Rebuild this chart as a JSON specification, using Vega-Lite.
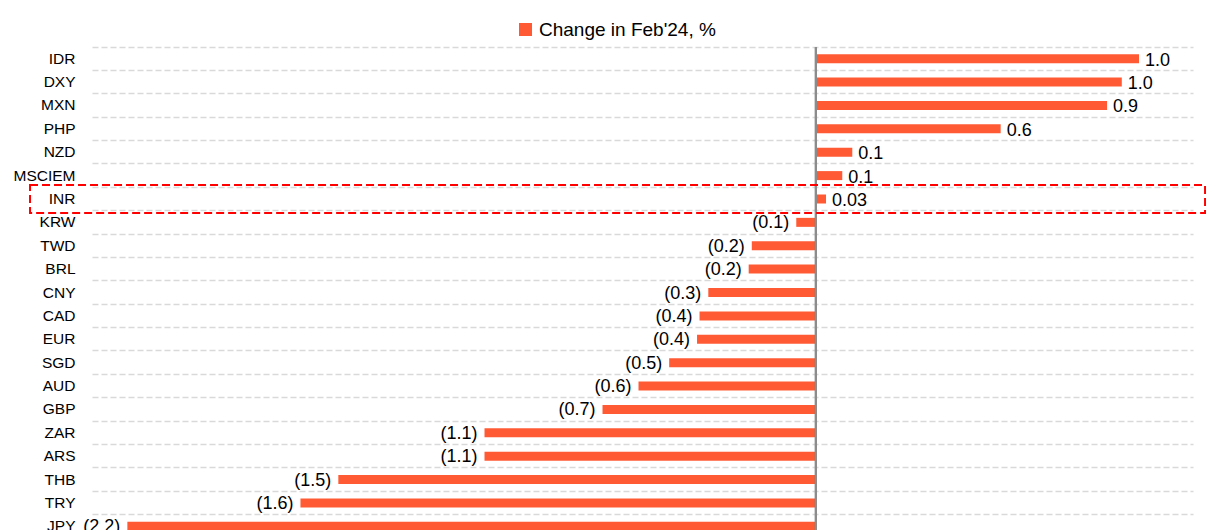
{
  "$schema": "https://vega.github.io/schema/vega-lite/v6.json",
  "autosize": {"type": "none"},
  "padding": {"left": 92, "top": 47, "right": 13, "bottom": 0},
  "width": 1101,
  "height": 491,
  "background": "white",
  "config": {
    "view": {"stroke": null},
    "font": "Liberation Sans"
  },
  "data": {
    "values": [
      {"cur": "IDR", "v": 1.032, "label": "1.0", "series": "Change in Feb'24, %"},
      {"cur": "DXY", "v": 0.977, "label": "1.0", "series": "Change in Feb'24, %"},
      {"cur": "MXN", "v": 0.93, "label": "0.9", "series": "Change in Feb'24, %"},
      {"cur": "PHP", "v": 0.59, "label": "0.6", "series": "Change in Feb'24, %"},
      {"cur": "NZD", "v": 0.116, "label": "0.1", "series": "Change in Feb'24, %"},
      {"cur": "MSCIEM", "v": 0.084, "label": "0.1", "series": "Change in Feb'24, %"},
      {"cur": "INR", "v": 0.032, "label": "0.03", "series": "Change in Feb'24, %"},
      {"cur": "KRW", "v": -0.063, "label": "(0.1)", "series": "Change in Feb'24, %"},
      {"cur": "TWD", "v": -0.205, "label": "(0.2)", "series": "Change in Feb'24, %"},
      {"cur": "BRL", "v": -0.215, "label": "(0.2)", "series": "Change in Feb'24, %"},
      {"cur": "CNY", "v": -0.344, "label": "(0.3)", "series": "Change in Feb'24, %"},
      {"cur": "CAD", "v": -0.372, "label": "(0.4)", "series": "Change in Feb'24, %"},
      {"cur": "EUR", "v": -0.38, "label": "(0.4)", "series": "Change in Feb'24, %"},
      {"cur": "SGD", "v": -0.469, "label": "(0.5)", "series": "Change in Feb'24, %"},
      {"cur": "AUD", "v": -0.567, "label": "(0.6)", "series": "Change in Feb'24, %"},
      {"cur": "GBP", "v": -0.682, "label": "(0.7)", "series": "Change in Feb'24, %"},
      {"cur": "ZAR", "v": -1.059, "label": "(1.1)", "series": "Change in Feb'24, %"},
      {"cur": "ARS", "v": -1.059, "label": "(1.1)", "series": "Change in Feb'24, %"},
      {"cur": "THB", "v": -1.526, "label": "(1.5)", "series": "Change in Feb'24, %"},
      {"cur": "TRY", "v": -1.647, "label": "(1.6)", "series": "Change in Feb'24, %"},
      {"cur": "JPY", "v": -2.2, "label": "(2.2)", "series": "Change in Feb'24, %"}
    ]
  },
  "encoding": {
    "y": {
      "field": "cur",
      "type": "nominal",
      "sort": null,
      "scale": {"paddingInner": 0, "paddingOuter": 0},
      "axis": {
        "title": null,
        "domain": false,
        "ticks": false,
        "labelPadding": 17,
        "labelFontSize": 15.5,
        "labelColor": "#000000",
        "labelFont": "Liberation Sans",
        "grid": true,
        "bandPosition": 0,
        "gridColor": "#d9d9d9",
        "gridDash": [6, 3],
        "gridWidth": 1.5
      }
    },
    "x": {
      "field": "v",
      "type": "quantitative",
      "scale": {"domain": [-2.313, 1.2045], "nice": false, "zero": false},
      "axis": null
    }
  },
  "layer": [
    {
      "mark": {"type": "bar", "size": 9},
      "encoding": {
        "color": {
          "field": "series",
          "type": "nominal",
          "scale": {"range": ["#FF5A33"]},
          "legend": {
            "title": null,
            "orient": "none",
            "legendX": 424,
            "legendY": -27,
            "symbolType": "square",
            "symbolSize": 169,
            "symbolStrokeWidth": 0,
            "labelFontSize": 19,
            "labelFont": "Liberation Sans",
            "labelColor": "#000000",
            "labelOffset": 4,
            "labelLimit": 0
          }
        }
      }
    },
    {
      "mark": {"type": "rule", "color": "#8c8c8c", "strokeWidth": 2},
      "encoding": {"x": {"datum": 0}, "y": null}
    },
    {
      "transform": [{"filter": "datum.v >= 0"}],
      "mark": {"type": "text", "align": "left", "baseline": "middle", "dx": 6, "dy": 2, "fontSize": 18, "font": "Liberation Sans", "color": "#000000"},
      "encoding": {"text": {"field": "label"}}
    },
    {
      "transform": [{"filter": "datum.v < 0"}],
      "mark": {"type": "text", "align": "right", "baseline": "middle", "dx": -7, "dy": 1, "fontSize": 18, "font": "Liberation Sans", "color": "#000000"},
      "encoding": {"text": {"field": "label"}}
    },
    {
      "transform": [{"filter": "datum.cur == 'INR'"}],
      "mark": {"type": "rect", "fill": null, "stroke": "#ff0000", "strokeWidth": 2, "strokeDash": [8, 4], "height": {"band": 1.2}},
      "encoding": {
        "x": {"datum": -2.511},
        "x2": {"datum": 1.243}
      }
    }
  ]
}
